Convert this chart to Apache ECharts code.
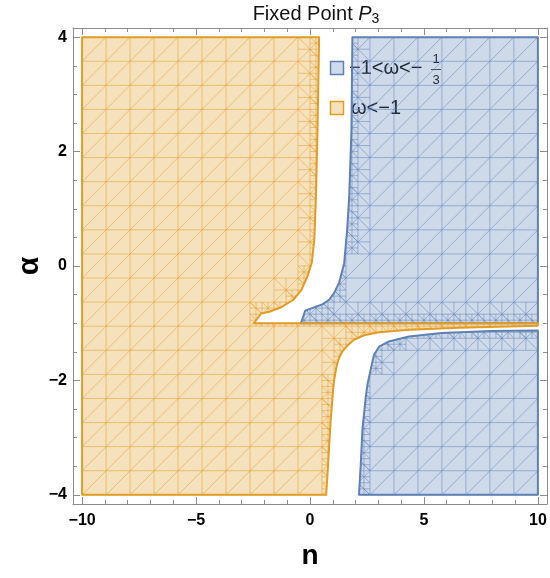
<!DOCTYPE html>
<html>
<head>
<meta charset="utf-8">
<script src="https://cdn.jsdelivr.net/npm/echarts@6/dist/echarts.min.js"></script>
<style>
  html, body { margin: 0; padding: 0; background: #fff; }
  #chart { width: 550px; height: 578px; }
</style>
</head>
<body>
<div id="chart"></div>
<script>
// boundaries: n along x, alpha along y
// omega < -1 (one region, left column plus the strip under alpha = -1)
const orangeN = [-10, 0.40, 0.33, 0.26, 0.19, 0.08, -0.10, -0.38, -0.73, -1.26, -1.78, -2.14, -2.46,
                 10, 10, 8.71, 6.52, 4.34, 3.03, 2.37, 1.93, 1.63, 1.41, 1.28, 1.17, 1.06, 0.99, 0.91, 0.84, 0.78, 0.71, -10];
const orangeA = [4, 4, 2.38, 1.21, 0.46, 0.06, -0.17, -0.42, -0.59, -0.72, -0.80, -0.83, -1.0,
                 -1.0, -1.045, -1.057, -1.08, -1.115, -1.158, -1.21, -1.289, -1.394, -1.499, -1.603, -1.744, -1.988, -2.279, -2.686, -3.153, -3.56, -4, -4];
// -1 < omega < -1/3, upper piece
const blueTopN = [1.86, 1.82, 1.72, 1.63, 1.50, 1.28, 1.06, 0.84, 0.54, 0.26, -0.21, -0.40, 10, 10];
const blueTopA = [4, 2.38, 1.21, 0.63, 0.05, -0.29, -0.47, -0.59, -0.67, -0.71, -0.78, -1.0, -1.0, 4];
// -1 < omega < -1/3, lower piece
const blueLowN = [10, 7.97, 5.78, 4.34, 3.46, 3.03, 2.81, 2.66, 2.52, 2.45, 2.30, 2.23, 2.15, 10];
const blueLowA = [-1.127, -1.137, -1.172, -1.231, -1.319, -1.411, -1.551, -1.813, -2.075, -2.279, -2.861, -3.443, -4, -4];

const xMajor = [-10, -5, 0, 5, 10];
const xMinor = [-9, -8, -7, -6, -4, -3, -2, -1, 1, 2, 3, 4, 6, 7, 8, 9];
const yMajor = [-4, -2, 0, 2, 4];
const yMinor = [-3.5, -3, -2.5, -1.5, -1, -0.5, 0.5, 1, 1.5, 2.5, 3, 3.5];

const BLUE = '#5E81B5';
const ORANGE = '#E19C24';
const MESH = 19; // sampling grid of the region plot, cells per side

function zip(xs, ys) {
    return xs.map((x, i) => [x, ys[i]]);
}

function inside(p, poly) {
    let c = false;
    for (let i = 0, j = poly.length - 1; i < poly.length; j = i++) {
        const a = poly[i], b = poly[j];
        if ((a[1] > p[1]) !== (b[1] > p[1]) &&
            p[0] < (b[0] - a[0]) * (p[1] - a[1]) / (b[1] - a[1]) + a[0]) c = !c;
    }
    return c;
}

// cut one segment down to the parts that lie in poly
function clip(seg, poly) {
    const a = seg[0], b = seg[1];
    const rx = b[0] - a[0], ry = b[1] - a[1];
    const ts = [0, 1];
    for (let k = 0; k < poly.length; k++) {
        const p = poly[k], q = poly[(k + 1) % poly.length];
        const sx = q[0] - p[0], sy = q[1] - p[1];
        const den = rx * sy - ry * sx;
        if (Math.abs(den) < 1e-12) continue;
        const wx = p[0] - a[0], wy = p[1] - a[1];
        const t = (wx * sy - wy * sx) / den;
        const u = (wx * ry - wy * rx) / den;
        if (t > 0 && t < 1 && u >= 0 && u <= 1) ts.push(t);
    }
    ts.sort((m, n) => m - n);
    const out = [];
    for (let i = 0; i < ts.length - 1; i++) {
        const t0 = ts[i], t1 = ts[i + 1];
        if (t1 - t0 < 1e-9) continue;
        const tm = (t0 + t1) / 2;
        if (inside([a[0] + rx * tm, a[1] + ry * tm], poly)) {
            out.push([[a[0] + rx * t0, a[1] + ry * t0], [a[0] + rx * t1, a[1] + ry * t1]]);
        }
    }
    return out;
}

// corners on the plot edge are pulled in a hair so the edge does not count as a boundary
function state(x, y, poly) {
    const cx = Math.max(-9.999, Math.min(9.999, x));
    const cy = Math.max(-3.999, Math.min(3.999, y));
    return inside([cx, cy], poly);
}

function cut(x0, y0, x1, y1, poly) {
    const s = [state(x0, y0, poly), state(x1, y0, poly), state(x0, y1, poly),
               state(x1, y1, poly), state((x0 + x1) / 2, (y0 + y1) / 2, poly)];
    return s.some(v => v !== s[0]);
}

// split cells that the boundary runs through, twice over
function refine(x0, y0, x1, y1, poly, depth, raw) {
    if (depth === 0 || !cut(x0, y0, x1, y1, poly)) return;
    const mx = (x0 + x1) / 2, my = (y0 + y1) / 2;
    raw.push([[mx, y0], [mx, y1]], [[x0, my], [x1, my]], [[x0, y1], [x1, y0]]);
    refine(x0, y0, mx, my, poly, depth - 1, raw);
    refine(mx, y0, x1, my, poly, depth - 1, raw);
    refine(x0, my, mx, y1, poly, depth - 1, raw);
    refine(mx, my, x1, y1, poly, depth - 1, raw);
}

function meshFor(poly) {
    const dx = 20 / MESH, dy = 8 / MESH;
    const gx = i => -10 + i * dx, gy = j => -4 + j * dy;
    const raw = [];
    for (let i = 0; i <= MESH; i++) raw.push([[gx(i), -4], [gx(i), 4]]);
    for (let j = 0; j <= MESH; j++) raw.push([[-10, gy(j)], [10, gy(j)]]);
    for (let d = -(MESH - 1); d <= MESH - 1; d++) {
        const i0 = Math.max(0, d), j0 = Math.max(0, -d), len = MESH - Math.abs(d);
        raw.push([[gx(i0), gy(j0)], [gx(i0 + len), gy(j0 + len)]]);
    }
    for (let i = 0; i < MESH; i++) {
        for (let j = 0; j < MESH; j++) refine(gx(i), gy(j), gx(i + 1), gy(j + 1), poly, 2, raw);
    }
    let segs = [];
    raw.forEach(s => { segs = segs.concat(clip(s, poly)); });
    return segs;
}

function region(name, poly, color) {
    const mesh = meshFor(poly);
    return {
        type: 'custom',
        name: name,
        silent: true,
        data: [poly[0]],
        renderItem: function (params, api) {
            const pts = poly.map(p => api.coord(p));
            const kids = [{
                type: 'polygon', shape: { points: pts },
                style: { fill: color, opacity: 0.3 }
            }];
            mesh.forEach(s => {
                const p = api.coord(s[0]), q = api.coord(s[1]);
                kids.push({
                    type: 'line', shape: { x1: p[0], y1: p[1], x2: q[0], y2: q[1] },
                    style: { stroke: color, lineWidth: 1, opacity: 0.5 }
                });
            });
            kids.push({
                type: 'polygon', shape: { points: pts },
                style: { fill: 'none', stroke: color, lineWidth: 2, lineJoin: 'round' }
            });
            return { type: 'group', children: kids };
        }
    };
}

const frame = { color: '#8c8c8c', width: 1 };
const fmt = v => String(v).replace('-', '\u2212');
const labelStyle = { color: '#000', fontWeight: 'bold', fontSize: 16, fontFamily: 'Liberation Sans' };

function axis(pos, min, max, ticks, len, main, extra) {
    return Object.assign({
        type: 'value', position: pos, min: min, max: max,
        axisLine: { show: main, onZero: false, lineStyle: frame },
        axisTick: { show: true, inside: true, length: len, customValues: ticks, lineStyle: frame },
        axisLabel: { show: false },
        splitLine: { show: false }
    }, extra || {});
}

const option = {
    animation: false,
    title: {
        text: 'Fixed Point {p|P}{s|3}',
        left: 311, top: -3, textAlign: 'center',
        textStyle: {
            fontSize: 20, fontWeight: 'normal', color: '#111', fontFamily: 'Liberation Sans',
            rich: {
                p: { fontSize: 20, fontStyle: 'italic', color: '#111', fontFamily: 'Liberation Sans', lineHeight: 24 },
                s: { fontSize: 14, color: '#111', fontFamily: 'Liberation Sans', lineHeight: 12, verticalAlign: 'bottom' }
            }
        }
    },
    grid: { left: 73, right: 3, top: 28, bottom: 74, outerBoundsMode: 'none' },
    xAxis: [
        axis('bottom', -10.4, 10.4, xMajor, 7, true, {
            axisLabel: { show: true, customValues: xMajor, formatter: fmt, margin: 9, ...labelStyle },
            name: 'n', nameLocation: 'middle', nameGap: 38, nameMoveOverlap: false,
            nameTextStyle: { fontSize: 28, fontWeight: 'bold', color: '#000', fontFamily: 'Liberation Sans' }
        }),
        axis('bottom', -10.4, 10.4, xMinor, 4, false),
        axis('top', -10.4, 10.4, xMajor, 7, true),
        axis('top', -10.4, 10.4, xMinor, 4, false)
    ],
    yAxis: [
        axis('left', -4.16, 4.16, yMajor, 7, true, {
            axisLabel: { show: true, customValues: yMajor, formatter: fmt, margin: 6, ...labelStyle },
            name: '\u03b1', nameLocation: 'middle', nameGap: 28, nameRotate: 90, nameMoveOverlap: false,
            nameTextStyle: { fontSize: 30, fontWeight: 'bold', color: '#000', fontFamily: 'Liberation Sans' }
        }),
        axis('left', -4.16, 4.16, yMinor, 4, false),
        axis('right', -4.16, 4.16, yMajor, 7, true),
        axis('right', -4.16, 4.16, yMinor, 4, false)
    ],
    series: [
        region('-1<\u03c9<-1/3 upper', zip(blueTopN, blueTopA), BLUE),
        region('-1<\u03c9<-1/3 lower', zip(blueLowN, blueLowA), BLUE),
        region('\u03c9<-1', zip(orangeN, orangeA), ORANGE)
    ],
    graphic: [
        { type: 'rect', shape: { x: 330.5, y: 61.5, width: 13, height: 13 },
          style: { fill: 'rgba(94,129,181,0.3)', stroke: BLUE, lineWidth: 1.5 } },
        { type: 'text', x: 349, y: 68,
          style: { text: '\u22121<\u03c9<\u2212', fontSize: 20, fill: '#000', fontFamily: 'Liberation Sans', verticalAlign: 'middle' } },
        { type: 'text', x: 436, y: 59,
          style: { text: '1', fontSize: 13, fill: '#000', fontFamily: 'Liberation Sans', align: 'center', verticalAlign: 'middle' } },
        { type: 'line', shape: { x1: 431, y1: 69.5, x2: 441, y2: 69.5 }, style: { stroke: '#000', lineWidth: 0.8 } },
        { type: 'text', x: 436, y: 80,
          style: { text: '3', fontSize: 13, fill: '#000', fontFamily: 'Liberation Sans', align: 'center', verticalAlign: 'middle' } },
        { type: 'rect', shape: { x: 330.5, y: 101.5, width: 13, height: 13 },
          style: { fill: 'rgba(225,156,36,0.3)', stroke: ORANGE, lineWidth: 1.5 } },
        { type: 'text', x: 351, y: 108,
          style: { text: '\u03c9<\u22121', fontSize: 20, fill: '#000', fontFamily: 'Liberation Sans', verticalAlign: 'middle' } }
    ]
};

const chart = echarts.init(document.getElementById('chart'));
chart.setOption(option);
</script>
</body>
</html>
